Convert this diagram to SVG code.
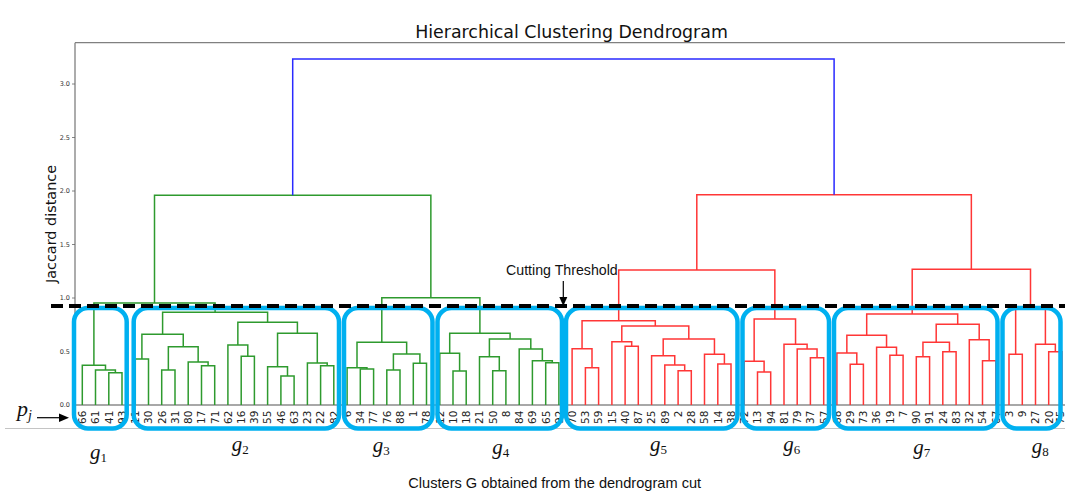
<svg xmlns="http://www.w3.org/2000/svg" width="1065" height="494" viewBox="0 0 1065 494">
<style>
.g{fill:none;stroke:#2e9a2e;stroke-width:1.5}
.r{fill:none;stroke:#ff3636;stroke-width:1.5}
.b{fill:none;stroke:#2a2aff;stroke-width:1.5}
.leaf text{font-family:"DejaVu Sans",sans-serif;font-size:10.5px;fill:#222;text-anchor:end}
.tick{font-family:"DejaVu Sans",sans-serif;font-size:6.5px;fill:#333;text-anchor:end}
.box{fill:none;stroke:#00b0f0;stroke-width:4.5}
.gl{font-family:"Liberation Serif",serif;font-size:21px;fill:#111}
.gl tspan.s{font-style:normal;font-size:13px}
.cap{font-family:"Liberation Sans",sans-serif;font-size:14.6px;fill:#111}
</style>
<rect width="1065" height="494" fill="#fff"/>
<!-- axes -->
<g id="axes">
<path d="M75 42.7 H1065 M75 42.7 V405" stroke="#808080" stroke-width="1.3" fill="none"/>
<path d="M75 405 H1065" stroke="#a8a8a8" stroke-width="2" fill="none"/>
<path d="M72 405H75M72 351.5H75M72 298H75M72 244.5H75M72 191H75M72 137.5H75M72 84H75" stroke="#666" stroke-width="0.8"/>
<text class="tick" x="70" y="407.3">0.0</text>
<text class="tick" x="70" y="353.8">0.5</text>
<text class="tick" x="70" y="300.3">1.0</text>
<text class="tick" x="70" y="246.8">1.5</text>
<text class="tick" x="70" y="193.3">2.0</text>
<text class="tick" x="70" y="139.8">2.5</text>
<text class="tick" x="70" y="86.3">3.0</text>
<text x="571.5" y="38.3" text-anchor="middle" font-family="DejaVu Sans, sans-serif" font-size="17.4" fill="#111">Hierarchical Clustering Dendrogram</text>
<text transform="translate(55.5 224) rotate(-90)" text-anchor="middle" font-family="DejaVu Sans, sans-serif" font-size="14.4" fill="#111">Jaccard distance</text>
<path d="M5 428.5 H1065" stroke="#c4c4c4" stroke-width="1"/>
</g>
<!-- connectors -->
<g id="connectors">
<g class="g">
<path d="M108.8 405V372.7H122V405"/>
<path d="M95.5 405V370H115.4V372.7"/>
<path d="M82.3 405V365.3H105.5V370"/>
<path d="M135.3 405V359H148.5V405"/>
<path d="M161.7 405V370H175V405"/>
<path d="M201.5 405V365.7H214.7V405"/>
<path d="M188.2 405V362H208.1V365.7"/>
<path d="M168.35 370V346.7H198.15V362"/>
<path d="M141.9 359V334.3H183.25V346.7"/>
<path d="M241.2 405V356.3H254.4V405"/>
<path d="M227.9 405V345H247.8V356.3"/>
<path d="M280.9 405V376H294.1V405"/>
<path d="M267.6 405V366.7H287.5V376"/>
<path d="M320.6 405V365.7H333.8V405"/>
<path d="M307.4 405V363H327.2V365.7"/>
<path d="M277.55 366.7V333.3H317.3V363"/>
<path d="M237.85 345V322.3H297.4V333.3"/>
<path d="M162.6 334.3V312.3H267.6V322.3"/>
<path d="M93.9 365.3V303H215.1V312.3"/>
<path d="M360.3 405V369H373.6V405"/>
<path d="M347.1 405V367.7H366.95V369"/>
<path d="M386.8 405V370H400V405"/>
<path d="M413.3 405V363.3H426.5V405"/>
<path d="M393.4 370V354H419.9V363.3"/>
<path d="M357 367.7V342.3H406.65V354"/>
<path d="M453 405V371H466.2V405"/>
<path d="M439.8 405V353.3H459.6V371"/>
<path d="M492.7 405V370.7H505.9V405"/>
<path d="M479.5 405V356.7H499.3V370.7"/>
<path d="M545.7 405V362.7H558.9V405"/>
<path d="M532.4 405V360.7H552.3V362.7"/>
<path d="M519.2 405V349H542.35V360.7"/>
<path d="M489.4 356.7V339H530.8V349"/>
<path d="M449.7 353.3V333.3H510.1V339"/>
<path d="M381.8 342.3V297.7H479.9V333.3"/>
<path d="M154.5 303V195.3H430.85V297.7"/>
</g>
<g class="r">
<path d="M585.4 405V367.7H598.6V405"/>
<path d="M572.1 405V348.7H592V367.7"/>
<path d="M625.1 405V346.3H638.3V405"/>
<path d="M611.9 405V341.7H631.7V346.3"/>
<path d="M678.1 405V370.7H691.3V405"/>
<path d="M664.8 405V365H684.7V370.7"/>
<path d="M651.6 405V355.7H674.75V365"/>
<path d="M717.8 405V364H731V405"/>
<path d="M704.5 405V354.3H724.4V364"/>
<path d="M663.2 355.7V339H714.45V354.3"/>
<path d="M621.8 341.7V326H688.8V339"/>
<path d="M582.05 348.7V320.7H655.3V326"/>
<path d="M757.5 405V372H770.7V405"/>
<path d="M744.2 405V361.3H764.1V372"/>
<path d="M810.4 405V357.7H823.7V405"/>
<path d="M797.2 405V349H817.05V357.7"/>
<path d="M784 405V344.3H807.1V349"/>
<path d="M754.15 361.3V319H795.55V344.3"/>
<path d="M618.7 320.7V270H774.85V319"/>
<path d="M850.2 405V364.3H863.4V405"/>
<path d="M836.9 405V353H856.8V364.3"/>
<path d="M889.9 405V355.3H903.1V405"/>
<path d="M876.6 405V347.3H896.5V355.3"/>
<path d="M846.85 353V335.3H886.55V347.3"/>
<path d="M916.3 405V356.7H929.6V405"/>
<path d="M942.8 405V351.7H956.1V405"/>
<path d="M922.95 356.7V342.3H949.45V351.7"/>
<path d="M982.5 405V360.7H995.8V405"/>
<path d="M969.3 405V339.7H989.15V360.7"/>
<path d="M936.2 342.3V324.3H979.2V339.7"/>
<path d="M866.7 335.3V314H957.7V324.3"/>
<path d="M1009 405V354.3H1022.3V405"/>
<path d="M1048.7 405V351.7H1062V405"/>
<path d="M1035.5 405V344.3H1055.35V351.7"/>
<path d="M1015.65 354.3V309H1045.4V344.3"/>
<path d="M912.2 314V269.3H1030.5V309"/>
<path d="M696.8 270V194.7H971.35V269.3"/>
</g>
<path class="b" d="M292.7 195.3V59H834.1V194.7"/>
</g>
<!-- leaf labels -->
<g id="leaves" class="leaf">
<text transform="translate(86.1 410.5) rotate(-90)">66</text>
<text transform="translate(99.3 410.5) rotate(-90)">61</text>
<text transform="translate(112.6 410.5) rotate(-90)">41</text>
<text transform="translate(125.8 410.5) rotate(-90)">93</text>
<text transform="translate(139.1 410.5) rotate(-90)">11</text>
<text transform="translate(152.3 410.5) rotate(-90)">30</text>
<text transform="translate(165.5 410.5) rotate(-90)">26</text>
<text transform="translate(178.8 410.5) rotate(-90)">31</text>
<text transform="translate(192 410.5) rotate(-90)">80</text>
<text transform="translate(205.3 410.5) rotate(-90)">17</text>
<text transform="translate(218.5 410.5) rotate(-90)">71</text>
<text transform="translate(231.7 410.5) rotate(-90)">62</text>
<text transform="translate(245 410.5) rotate(-90)">16</text>
<text transform="translate(258.2 410.5) rotate(-90)">39</text>
<text transform="translate(271.4 410.5) rotate(-90)">55</text>
<text transform="translate(284.7 410.5) rotate(-90)">46</text>
<text transform="translate(297.9 410.5) rotate(-90)">63</text>
<text transform="translate(311.2 410.5) rotate(-90)">23</text>
<text transform="translate(324.4 410.5) rotate(-90)">22</text>
<text transform="translate(337.6 410.5) rotate(-90)">82</text>
<text transform="translate(350.9 410.5) rotate(-90)">6</text>
<text transform="translate(364.1 410.5) rotate(-90)">34</text>
<text transform="translate(377.4 410.5) rotate(-90)">77</text>
<text transform="translate(390.6 410.5) rotate(-90)">76</text>
<text transform="translate(403.8 410.5) rotate(-90)">88</text>
<text transform="translate(417.1 410.5) rotate(-90)">1</text>
<text transform="translate(430.3 410.5) rotate(-90)">78</text>
<text transform="translate(443.6 410.5) rotate(-90)">12</text>
<text transform="translate(456.8 410.5) rotate(-90)">10</text>
<text transform="translate(470 410.5) rotate(-90)">18</text>
<text transform="translate(483.3 410.5) rotate(-90)">21</text>
<text transform="translate(496.5 410.5) rotate(-90)">50</text>
<text transform="translate(509.7 410.5) rotate(-90)">8</text>
<text transform="translate(523 410.5) rotate(-90)">84</text>
<text transform="translate(536.2 410.5) rotate(-90)">69</text>
<text transform="translate(549.5 410.5) rotate(-90)">65</text>
<text transform="translate(562.7 410.5) rotate(-90)">92</text>
<text transform="translate(575.9 410.5) rotate(-90)">70</text>
<text transform="translate(589.2 410.5) rotate(-90)">53</text>
<text transform="translate(602.4 410.5) rotate(-90)">59</text>
<text transform="translate(615.7 410.5) rotate(-90)">15</text>
<text transform="translate(628.9 410.5) rotate(-90)">40</text>
<text transform="translate(642.1 410.5) rotate(-90)">87</text>
<text transform="translate(655.4 410.5) rotate(-90)">25</text>
<text transform="translate(668.6 410.5) rotate(-90)">89</text>
<text transform="translate(681.9 410.5) rotate(-90)">2</text>
<text transform="translate(695.1 410.5) rotate(-90)">28</text>
<text transform="translate(708.3 410.5) rotate(-90)">58</text>
<text transform="translate(721.6 410.5) rotate(-90)">14</text>
<text transform="translate(734.8 410.5) rotate(-90)">38</text>
<text transform="translate(748 410.5) rotate(-90)">72</text>
<text transform="translate(761.3 410.5) rotate(-90)">13</text>
<text transform="translate(774.5 410.5) rotate(-90)">94</text>
<text transform="translate(787.8 410.5) rotate(-90)">81</text>
<text transform="translate(801 410.5) rotate(-90)">79</text>
<text transform="translate(814.2 410.5) rotate(-90)">37</text>
<text transform="translate(827.5 410.5) rotate(-90)">57</text>
<text transform="translate(840.7 410.5) rotate(-90)">68</text>
<text transform="translate(854 410.5) rotate(-90)">29</text>
<text transform="translate(867.2 410.5) rotate(-90)">73</text>
<text transform="translate(880.4 410.5) rotate(-90)">36</text>
<text transform="translate(893.7 410.5) rotate(-90)">19</text>
<text transform="translate(906.9 410.5) rotate(-90)">7</text>
<text transform="translate(920.1 410.5) rotate(-90)">90</text>
<text transform="translate(933.4 410.5) rotate(-90)">91</text>
<text transform="translate(946.6 410.5) rotate(-90)">24</text>
<text transform="translate(959.9 410.5) rotate(-90)">83</text>
<text transform="translate(973.1 410.5) rotate(-90)">32</text>
<text transform="translate(986.3 410.5) rotate(-90)">54</text>
<text transform="translate(999.6 410.5) rotate(-90)">67</text>
<text transform="translate(1012.8 410.5) rotate(-90)">3</text>
<text transform="translate(1026.1 410.5) rotate(-90)">9</text>
<text transform="translate(1039.3 410.5) rotate(-90)">27</text>
<text transform="translate(1052.5 410.5) rotate(-90)">20</text>
<text transform="translate(1064.3 410.5) rotate(-90)">75</text>
</g>
<!-- cluster nodes -->
<g id="cluster-g1"><rect class="box" x="74" y="308" width="52.7" height="120.5" rx="14"/><text class="gl" x="90" y="459"><tspan font-style="italic">g</tspan><tspan class="s" dy="3">1</tspan></text></g>
<g id="cluster-g2"><rect class="box" x="133.7" y="308" width="205.3" height="120.5" rx="14"/><text class="gl" x="231.7" y="450.6"><tspan font-style="italic">g</tspan><tspan class="s" dy="3">2</tspan></text></g>
<g id="cluster-g3"><rect class="box" x="344" y="308" width="88.5" height="120.5" rx="14"/><text class="gl" x="372.7" y="452.3"><tspan font-style="italic">g</tspan><tspan class="s" dy="3">3</tspan></text></g>
<g id="cluster-g4"><rect class="box" x="437.5" y="308" width="124.5" height="120.5" rx="14"/><text class="gl" x="492.3" y="454"><tspan font-style="italic">g</tspan><tspan class="s" dy="3">4</tspan></text></g>
<g id="cluster-g5"><rect class="box" x="566" y="308" width="171.5" height="120.5" rx="14"/><text class="gl" x="650" y="450.6"><tspan font-style="italic">g</tspan><tspan class="s" dy="3">5</tspan></text></g>
<g id="cluster-g6"><rect class="box" x="742.5" y="308" width="86.5" height="120.5" rx="14"/><text class="gl" x="783.3" y="451"><tspan font-style="italic">g</tspan><tspan class="s" dy="3">6</tspan></text></g>
<g id="cluster-g7"><rect class="box" x="834" y="308" width="163.5" height="120.5" rx="14"/><text class="gl" x="913.3" y="454"><tspan font-style="italic">g</tspan><tspan class="s" dy="3">7</tspan></text></g>
<g id="cluster-g8"><rect class="box" x="1002.5" y="308" width="58" height="120.5" rx="14"/><text class="gl" x="1031.7" y="452.5"><tspan font-style="italic">g</tspan><tspan class="s" dy="3">8</tspan></text></g>
<!-- cut line -->
<g id="cut">
<path d="M51 306 H1065" stroke="#000" stroke-width="4" stroke-dasharray="12 6"/>
<text x="506" y="275" font-family="Liberation Sans, sans-serif" font-size="14.2" fill="#111">Cutting Threshold</text>
<path d="M563.3 281 V298" stroke="#000" stroke-width="1.2"/>
<polygon points="563.3,306 559.3,297 567.3,297" fill="#000"/>
</g>
<g id="pj">
<text x="17" y="416" font-family="Liberation Serif, serif" font-size="22" font-style="italic" fill="#111">p<tspan font-size="14" dy="4">j</tspan></text>
<path d="M37 417.7 H61" stroke="#000" stroke-width="1.2"/>
<polygon points="69,417.7 59,413.5 59,421.9" fill="#000"/>
</g>
<text class="cap" x="554.7" y="487.5" text-anchor="middle">Clusters G obtained from the dendrogram cut</text>
</svg>
